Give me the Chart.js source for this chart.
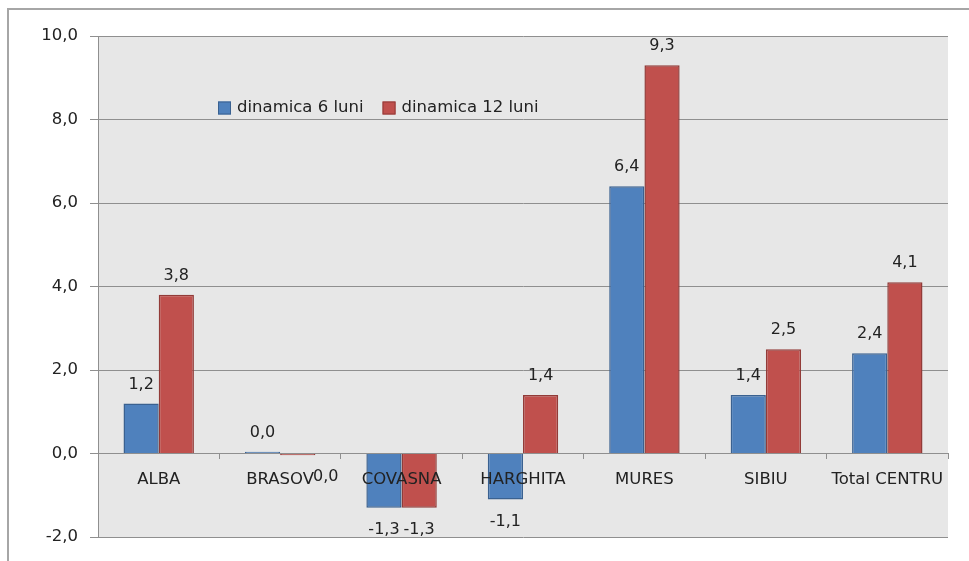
<!DOCTYPE html>
<html>
<head>
    <title>Dinamica pe judete</title>
    <style>
        body { margin: 0; background: #fff; }
        .frame {
            position: absolute;
            left: 7px;
            top: 8px;
            width: 980px;
            height: 580px;
            border-top: 2px solid #a6a6a6;
            border-left: 2px solid #a6a6a6;
        }
        #chart { position: absolute; left: 0; top: 0; }
    </style>
    <script src="https://cdn.jsdelivr.net/npm/chart.js"></script>
</head>
<body>
    <div class="frame"></div>
    <canvas id="chart" width="969" height="561"></canvas>
    <script>
        const judete = ['ALBA', 'BRASOV', 'COVASNA', 'HARGHITA', 'MURES', 'SIBIU', 'Total CENTRU'];
        const dinamica6 = [1.2, 0.04, -1.3, -1.1, 6.4, 1.4, 2.4];
        const dinamica12 = [3.8, -0.04, -1.3, 1.4, 9.3, 2.5, 4.1];
        const yTicks = [-2, 0, 2, 4, 6, 8, 10];

        const fontFamily = '"DejaVu Sans", Verdana, sans-serif';
        const textColor = '#222';
        const gridColor = '#8f8f8f';

        // romanian style: one decimal, comma separator, no "-0,0"
        function fmt(v) {
            return (Math.round(v * 10) / 10 + 0).toFixed(1).replace('.', ',');
        }

        const plotBackground = {
            id: 'plotBackground',
            beforeDraw(chart) {
                const { ctx, chartArea: a } = chart;
                ctx.save();
                ctx.fillStyle = '#e7e7e7';
                ctx.fillRect(a.left, a.top, a.right - a.left, a.bottom - a.top);
                ctx.restore();
            }
        };

        // value labels at the outer end of every bar
        const valueLabels = {
            id: 'valueLabels',
            afterDatasetsDraw(chart, args, opts) {
                const { ctx } = chart;
                ctx.save();
                ctx.font = '16px ' + fontFamily;
                ctx.fillStyle = textColor;
                ctx.textAlign = 'center';
                ctx.textBaseline = 'middle';
                chart.data.datasets.forEach((ds, di) => {
                    chart.getDatasetMeta(di).data.forEach((bar, i) => {
                        const v = ds.data[i];
                        const shift = (opts.shift[di + ':' + i]) || 0;
                        const y = v >= 0 ? bar.y - 19 : bar.y + 22;
                        ctx.fillText(fmt(v), bar.x + shift, y);
                    });
                });
                ctx.restore();
            }
        };

        // legend drawn inside the plot area
        const innerLegend = {
            id: 'innerLegend',
            afterDraw(chart) {
                const { ctx, chartArea: a } = chart;
                let x = a.left + 120;
                const y = a.top + 72;
                ctx.save();
                ctx.font = '16.5px ' + fontFamily;
                ctx.textBaseline = 'middle';
                chart.data.datasets.forEach(ds => {
                    ctx.fillStyle = ds.backgroundColor;
                    ctx.fillRect(x, y - 6.5, 13, 13);
                    ctx.strokeStyle = ds.borderColor;
                    ctx.lineWidth = 1;
                    ctx.strokeRect(x + 0.5, y - 6, 12, 12);
                    ctx.fillStyle = textColor;
                    ctx.fillText(ds.label, x + 19, y);
                    x += 19 + ctx.measureText(ds.label).width + 19;
                });
                ctx.restore();
            }
        };

        new Chart(document.getElementById('chart').getContext('2d'), {
            type: 'bar',
            data: {
                labels: judete,
                datasets: [{
                    label: 'dinamica 6 luni',
                    data: dinamica6,
                    backgroundColor: '#4f81bd',
                    borderColor: '#3a6190',
                    borderWidth: 1.5,
                    inflateAmount: 0
                }, {
                    label: 'dinamica 12 luni',
                    data: dinamica12,
                    backgroundColor: '#c0504d',
                    borderColor: '#923b38',
                    borderWidth: 1.5,
                    inflateAmount: 0
                }]
            },
            options: {
                responsive: false,
                animation: false,
                devicePixelRatio: 1,
                layout: { padding: { left: 0, top: 36, right: 21, bottom: 24 } },
                datasets: {
                    bar: { categoryPercentage: 0.58, barPercentage: 1.0 }
                },
                plugins: {
                    legend: { display: false },
                    tooltip: { enabled: false },
                    valueLabels: { shift: { '1:1': 28 } }
                },
                scales: {
                    x: {
                        // category axis crosses at zero, drawn over the bars
                        position: { y: 0 },
                        grid: {
                            offset: true,
                            drawOnChartArea: false,
                            tickLength: 5,
                            color: gridColor,
                            z: 1
                        },
                        border: { color: gridColor, z: 1 },
                        ticks: {
                            color: textColor,
                            font: { family: fontFamily, size: 16.5 },
                            padding: 11,
                            maxRotation: 0,
                            autoSkip: false,
                            z: 1
                        }
                    },
                    y: {
                        min: -2,
                        max: 10,
                        afterFit(scale) { scale.width = 98; },
                        afterBuildTicks(scale) {
                            scale.ticks = yTicks.map(v => ({ value: v }));
                        },
                        grid: { color: gridColor, tickLength: 8 },
                        border: { color: gridColor },
                        ticks: {
                            color: textColor,
                            font: { family: fontFamily, size: 16.5 },
                            padding: 12,
                            callback: v => fmt(v)
                        }
                    }
                }
            },
            plugins: [plotBackground, valueLabels, innerLegend]
        });
    </script>
</body>
</html>
